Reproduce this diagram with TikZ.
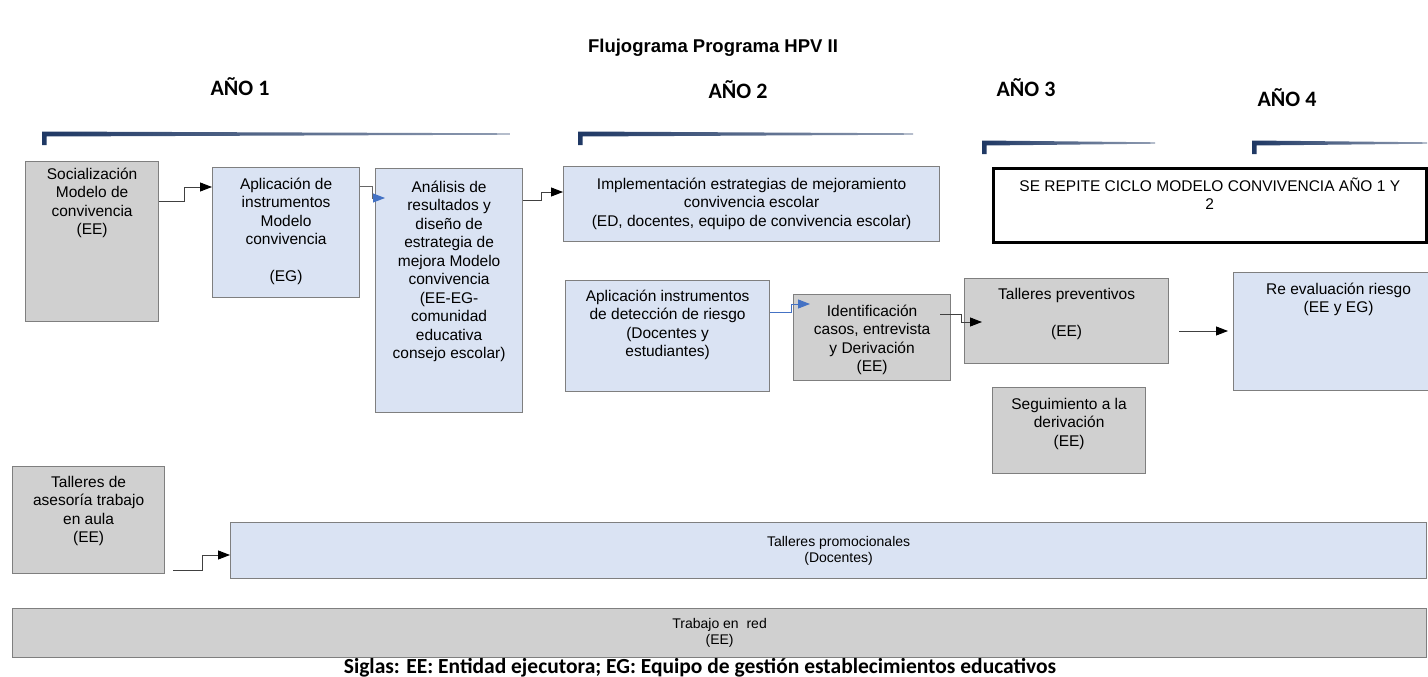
\documentclass[tikz,border=0pt]{standalone}
\usepackage{fontspec}
\setmainfont{Liberation Sans}
\newfontfamily\calibri{Carlito}
\usetikzlibrary{arrows.meta}
\definecolor{greyfill}{HTML}{D0D0D0}
\definecolor{bluefill}{HTML}{DAE3F3}
\definecolor{edge}{HTML}{7F7F7F}
\definecolor{barblue}{HTML}{1F3864}
\definecolor{arrowblue}{HTML}{4472C4}
% tapered year bar: x from, x to, y
\newcommand{\yearbar}[3]{%
  \shade[left color=barblue, right color=barblue!50]
    (#1,#3-2.5) -- (#2,#3-0.7) -- (#2,#3+0.7) -- (#1+4.5,#3+2.5) -- (#1+4.5,#3+11) -- (#1,#3+11) -- cycle;}
\begin{document}
\begin{tikzpicture}[x=1pt, y=-1pt,
    txt/.style={align=center, inner sep=0pt, anchor=north,
      font=\fontsize{15.5}{18.5}\selectfont, execute at begin node=\strut},
    smalltxt/.style={align=center, inner sep=0pt, font=\fontsize{14}{16}\selectfont},
    greybox/.style={draw=edge, fill=greyfill, line width=1.2pt, anchor=north west, inner sep=0pt},
    bluebox/.style={draw=edge, fill=bluefill, line width=1.2pt, anchor=north west, inner sep=0pt},
    conn/.style={draw=black!75, line width=0.9pt, -{Triangle[length=12pt,width=9pt,color=black]}},
    year/.style={font=\calibri\bfseries\fontsize{22}{26}\selectfont}]
  \path[use as bounding box, fill=white] (0,0) rectangle (1428,677);

  % title and years
  \node[font=\bfseries\fontsize{18.5}{22}\selectfont] (title) at (713,48) {Flujograma Programa HPV II};
  \node[year] (y1) at (240,87) {AÑO 1};
  \node[year] (y2) at (738,90) {AÑO 2};
  \node[year] (y3) at (1026,88) {AÑO 3};
  \node[year] (y4) at (1287,98) {AÑO 4};
  \yearbar{42}{510}{134}
  \yearbar{578}{913}{134}
  \yearbar{982}{1155}{143}
  \yearbar{1252}{1427}{143}

  % boxes
  \node[greybox, minimum width=133pt, minimum height=160pt] (soc) at (25,161) {};
  \node[bluebox, minimum width=147pt, minimum height=130pt] (apl) at (212,167) {};
  \node[bluebox, minimum width=147pt, minimum height=244pt] (ana) at (375,168) {};
  \node[bluebox, minimum width=376pt, minimum height=75pt] (imp) at (563,166) {};
  \node[draw=black, line width=2.5pt, fill=white, anchor=north west, inner sep=0pt,
        minimum width=433pt, minimum height=74pt] (rep) at (992,167) {};
  \node[bluebox, minimum width=204pt, minimum height=111pt] (aplr) at (565,280) {};
  \node[greybox, minimum width=157pt, minimum height=86pt] (ide) at (793,294) {};
  \node[greybox, minimum width=204pt, minimum height=85pt] (tal) at (964,278) {};
  \node[greybox, minimum width=153pt, minimum height=86pt] (seg) at (992,387) {};
  \node[bluebox, minimum width=200pt, minimum height=118pt] (ree) at (1233,272) {};
  \node[greybox, minimum width=152pt, minimum height=107pt] (tas) at (12,466) {};
  \node[bluebox, minimum width=1196pt, minimum height=56pt] (tpr) at (230,522) {};
  \node[greybox, minimum width=1414pt, minimum height=49pt] (tra) at (12,608) {};

  % texts
  \node[txt] (socT) at ([yshift=-6.6pt]soc.north) {Socialización\\Modelo de\\convivencia\\(EE)};
  \node[txt] (aplT) at ([yshift=-10.6pt]apl.north) {Aplicación de\\instrumentos\\Modelo\\convivencia\\[18.5pt](EG)};
  \node[txt] (anaT) at ([yshift=-12.6pt]ana.north) {Análisis de\\resultados y\\diseño de\\estrategia de\\mejora Modelo\\convivencia\\(EE-EG-\\comunidad\\educativa\\consejo escolar)};
  \node[txt] (impT) at ([yshift=-11.6pt]imp.north) {Implementación estrategias de mejoramiento\\convivencia escolar\\(ED, docentes, equipo de convivencia escolar)};
  \node[txt] (repT) at ([yshift=-10.6pt]rep.north) {SE REPITE CICLO MODELO CONVIVENCIA AÑO 1 Y\\2};
  \node[txt] (aplrT) at ([yshift=-9.6pt]aplr.north) {Aplicación instrumentos\\de detección de riesgo\\(Docentes y\\estudiantes)};
  \node[txt] (ideT) at ([yshift=-10.6pt]ide.north) {Identificación\\casos, entrevista\\y Derivación\\(EE)};
  \node[txt] (talT) at ([yshift=-9.6pt]tal.north) {Talleres preventivos\\[19pt](EE)};
  \node[txt] (segT) at ([yshift=-10.6pt]seg.north) {Seguimiento a la\\derivación\\(EE)};
  \node[txt] (reeT) at ([xshift=5pt,yshift=-10.6pt]ree.north) {Re evaluación riesgo\\(EE y EG)};
  \node[txt] (tasT) at ([yshift=-9.6pt]tas.north) {Talleres de\\asesoría trabajo\\en aula\\(EE)};
  \node[smalltxt] (tprT) at ([xshift=10pt]tpr.center) {Talleres promocionales\\(Docentes)};
  \node[smalltxt] (traT) at (tra.center) {Trabajo en\ \ red\\(EE)};
  \node[font=\calibri\bfseries\fontsize{21.5}{24}\selectfont] (siglas) at (700,668)
    {Siglas: EE: Entidad ejecutora; EG: Equipo de gestión establecimientos educativos};

  % connectors
  \draw[conn] ([yshift=-40pt]soc.north east) -- ++(25,0) |- ([yshift=-20pt]apl.north west);
  \draw[conn, draw=black!60, -{Triangle[length=12pt,width=9pt,color=arrowblue]}]
    ([yshift=-19pt]apl.north east) -- ++(12,0) |- ([xshift=10pt,yshift=-30pt]ana.north west);
  \draw[conn] ([yshift=-32pt]ana.north east) -- ++(18,0) |- ([yshift=-26pt]imp.north west);
  \draw[conn, draw=arrowblue, -{Triangle[length=12pt,width=9pt,color=arrowblue]}]
    ([yshift=-32pt]aplr.north east) -- ++(21,0) |- ([xshift=17pt,yshift=-10pt]ide.north west);
  \draw[conn] ([xshift=-11pt,yshift=-20pt]ide.north east) -- ++(21,0) |- ([xshift=18pt,yshift=-44pt]tal.north west);
  \draw[conn] ([xshift=10pt,yshift=-53pt]tal.north east) -- ([xshift=-5pt,yshift=-59pt]ree.north west);
  \draw[conn] ([xshift=8pt,yshift=4pt]tas.south east) -- ++(29,0) |- ([yshift=-33pt]tpr.north west);
\end{tikzpicture}
\end{document}
